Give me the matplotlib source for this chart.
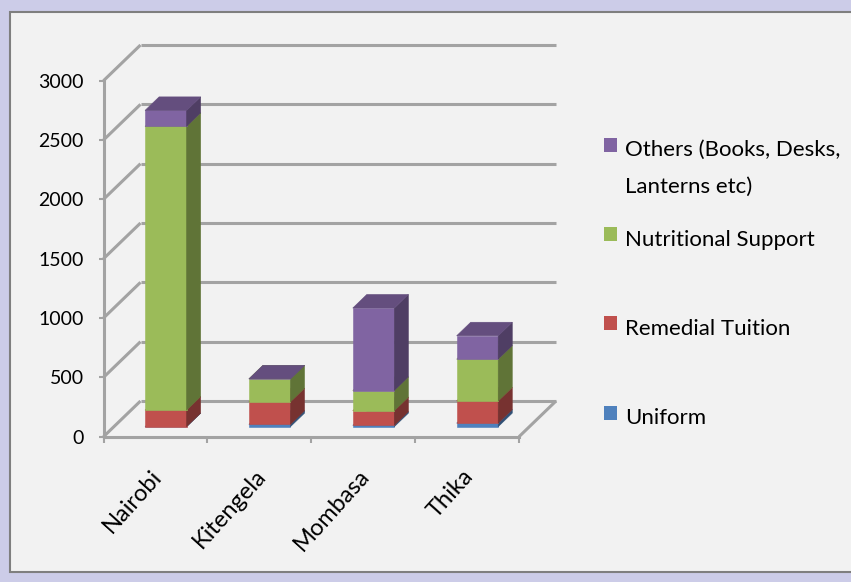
import numpy as np
import matplotlib
matplotlib.use('Agg')
import matplotlib.pyplot as plt
from matplotlib.patches import Rectangle, Polygon
from matplotlib.colors import to_rgb
from matplotlib.transforms import ScaledTranslation

# dados do grafico
categories = ['Nairobi', 'Kitengela', 'Mombasa', 'Thika']
series_names = ['Uniform', 'Remedial Tuition', 'Nutritional Support',
                'Others (Books, Desks,\nLanterns etc)']
uniform = [0, 20, 12, 30]
remedial = [140, 190, 123, 187]
nutritional = [2390, 193, 170, 352]
others = [135, 0, 695, 197]
y_ticks = [0, 500, 1000, 1500, 2000, 2500, 3000]

series = [uniform, remedial, nutritional, others]
colors = ['#4F81BD', '#C0504D', '#9BBB59', '#8064A2']

W, H = 851, 582
plt.rcParams['font.family'] = ['Lato', 'DejaVu Sans']

fig = plt.figure(figsize=(W / 100, H / 100), dpi=100)
fig.patch.set_facecolor('#CCCCE8')

# painel interno
fig.add_artist(Rectangle((10 / W, 1 - 572 / H), (W - 5) / W, (572 - 12) / H,
                         transform=fig.transFigure, facecolor='#F2F2F2',
                         edgecolor='#7F7F7F', linewidth=1.5, zorder=0))

# eixo frontal (plano da frente do "3D")
ax = fig.add_axes([103.5 / W, 1 - 436.7 / H, (519 - 103.5) / W, (436.7 - 80.7) / H])
ax.set_xlim(-0.5, len(categories) - 0.5)
ax.set_ylim(0, 3000)
ax.patch.set_visible(False)

# profundidade da parede/chao em unidades de dados
DX = 37 / ((519 - 103.5) / len(categories))
DY = 35.7 / ((436.7 - 80.7) / 3000)

grid_kw = dict(color='#A3A3A3', linewidth=2.2, solid_capstyle='butt', zorder=1, clip_on=False)
x_left = -0.5
x_right = len(categories) - 0.5
for v in y_ticks:
    ax.plot([x_left, x_left + DX], [v, v + DY], **grid_kw)
    ax.plot([x_left + DX, x_right + DX], [v + DY, v + DY], **grid_kw)
# borda direita do chao
ax.plot([x_right, x_right + DX], [0, DY], **grid_kw)

for s in ['top', 'right']:
    ax.spines[s].set_visible(False)
for s in ['left', 'bottom']:
    ax.spines[s].set_color('#A3A3A3')
    ax.spines[s].set_linewidth(2.2)

ax.set_yticks(y_ticks)
ax.set_yticklabels([str(v) for v in y_ticks])
ax.tick_params(axis='y', length=3.6, width=1.5, color='#A3A3A3', pad=10.5,
               labelsize=14, labelcolor='black')

ax.set_xticks(np.arange(len(categories) + 1) - 0.5)
ax.set_xticklabels([])
ax.tick_params(axis='x', which='major', length=4.5, width=1.5, color='#A3A3A3')
ax.set_xticks(np.arange(len(categories)), minor=True)
ax.set_xticklabels(categories, minor=True, rotation=48, ha='right', va='center',
                   rotation_mode='anchor', fontsize=17)
ax.tick_params(axis='x', which='minor', length=0, pad=26)
for lab in ax.get_xticklabels(minor=True):
    lab.set_transform(lab.get_transform() + ScaledTranslation(3 / 100, 0, fig.dpi_scale_trans))


def shade(c, f):
    r, g, b = to_rgb(c)
    return (r * f, g * f, b * f)


# barras empilhadas com faces frontal, lateral e de topo
f0 = 0.28      # distancia da frente do chao ate a frente da barra
t = 0.38       # espessura da barra (fracao da profundidade)
bw = 0.40      # largura da barra
for i in range(len(categories)):
    base = 0
    for vals, c in zip(series, colors):
        h = vals[i]
        x0 = i - bw / 2 + f0 * DX
        x1 = x0 + bw
        y0 = base + f0 * DY
        y1 = y0 + h
        ddx, ddy = t * DX, t * DY
        kw = dict(linewidth=0.4, clip_on=False, zorder=3)
        ax.add_patch(Rectangle((x0, y0), bw, h, facecolor=c, edgecolor=c, **kw))
        ax.add_patch(Polygon([(x1, y0), (x1 + ddx, y0 + ddy), (x1 + ddx, y1 + ddy), (x1, y1)],
                             facecolor=shade(c, 0.62), edgecolor=shade(c, 0.62), **kw))
        ax.add_patch(Polygon([(x0, y1), (x1, y1), (x1 + ddx, y1 + ddy), (x0 + ddx, y1 + ddy)],
                             facecolor=shade(c, 0.78), edgecolor=shade(c, 0.78), **kw))
        base += h

# legenda (ordem invertida, como no Excel)
leg_baselines = [424.5, 334.7, 245.5, 156]
for name, c, yb in zip(series_names, colors, leg_baselines):
    fig.add_artist(Rectangle((604.3 / W, 1 - (yb - 4.5) / H), 12.5 / W, 14 / H,
                             transform=fig.transFigure, facecolor=c, edgecolor='none'))
    for k, line in enumerate(name.split('\n')):
        fig.text(625 / W, 1 - (yb + k * 37) / H, line, fontsize=16, va='baseline', ha='left')

fig.savefig('out.png', dpi=100, facecolor=fig.get_facecolor())
